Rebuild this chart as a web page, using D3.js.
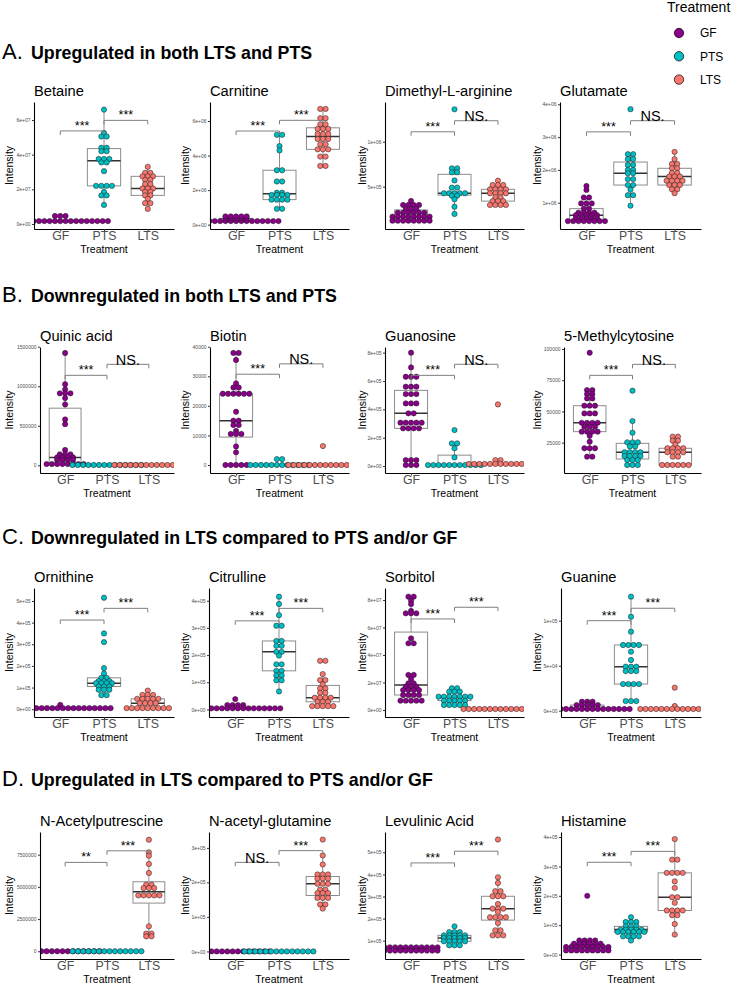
<!DOCTYPE html>
<html><head><meta charset="utf-8">
<script src="https://cdn.jsdelivr.net/npm/d3@7"></script>
<style>body{margin:0;background:#fff} svg{display:block;font-family:"Liberation Sans",Arial,sans-serif}</style>
</head><body><svg id="c" width="742" height="985"></svg>
<script>
// ---------------- DATA ----------------
const groups = ["GF", "PTS", "LTS"];
const groupColors = ["#8B008B", "#00BFC4", "#F8766D"];
const sectionLetters = ["A.", "B.", "C.", "D."];
const sectionTitles = ["Upregulated in both LTS and PTS", "Downregulated in both LTS and PTS",
  "Downregulated in LTS compared to PTS and/or GF", "Upregulated in LTS compared to PTS and/or GF"];
const metabolites = ["Betaine", "Carnitine", "Dimethyl-L-arginine", "Glutamate",
  "Quinic acid", "Biotin", "Guanosine", "5-Methylcytosine",
  "Ornithine", "Citrulline", "Sorbitol", "Guanine",
  "N-Acetylputrescine", "N-acetyl-glutamine", "Levulinic Acid", "Histamine"];
const yTickLabels = [
  ["0e+00", "2e+07", "4e+07", "6e+07"], ["0e+00", "2e+06", "4e+06", "6e+06"], ["5e+05", "1e+06"], ["1e+06", "2e+06", "3e+06", "4e+06"],
  ["0", "500000", "1000000", "1500000"], ["0", "10000", "20000", "30000", "40000"], ["0e+00", "2e+05", "4e+05", "6e+05", "8e+05"], ["25000", "50000", "75000", "100000"],
  ["0e+00", "1e+05", "2e+05", "3e+05", "4e+05", "5e+05"], ["0e+00", "1e+05", "2e+05", "3e+05", "4e+05"], ["0e+00", "2e+07", "4e+07", "6e+07", "8e+07"], ["0e+00", "5e+04", "1e+05"],
  ["0", "2500000", "5000000", "7500000"], ["0e+00", "1e+05", "2e+05", "3e+05"], ["1e+05", "2e+05", "3e+05", "4e+05", "5e+05"], ["0e+00", "1e+05", "2e+05", "3e+05", "4e+05"]];
const yDomains = [
  [-2.9e6, 7.04e7], [-2.5e5, 7.1e6], [3e4, 1.441e6], [2e5, 4.07e6],
  [-9.7e4, 1.496e6], [-2700, 39900], [-4.9e4, 8.4e5], [700, 101600],
  [-3.6e4, 5.6e5], [-2.8e4, 4.47e5], [-5.1e6, 8.87e7], [-7e3, 1.363e5],
  [-6e5, 9.26e6], [-2.2e4, 3.46e5], [1.7e4, 5.92e5], [-1.5e4, 4.17e5]];
// values as [value, number of samples]
const gfValues = [
  [[1.7e6, 19], [4.6e6, 3]],
  [[2.1e5, 17], [3.6e5, 5], [4.8e5, 5]],
  [[3.41e5, 1], [2.97e5, 4], [2.52e5, 3], [2.11e5, 6], [1.67e5, 8], [1.22e5, 8]],
  [[1.51e6, 1], [1.39e6, 1], [1.16e6, 2], [9.8e5, 3], [8.2e5, 2], [7.0e5, 4], [6.2e5, 5], [5.2e5, 5], [4.4e5, 8]],
  [[1.42e6, 1], [1.025e6, 1], [9.6e5, 1], [9.1e5, 3], [8.5e5, 1], [7.7e5, 1], [5.8e5, 1], [5.2e5, 1], [1.94e5, 1], [1.39e5, 3], [1.0e5, 4], [6.7e4, 4], [1.6e4, 8]],
  [[37900, 2], [35500, 1], [27600, 1], [26200, 2], [24100, 6], [18000, 1], [15000, 2], [13500, 2], [11500, 1], [10500, 3], [6300, 1], [4300, 1], [0, 5]],
  [[8.0e5, 1], [6.96e5, 1], [6.3e5, 3], [5.6e5, 3], [5.08e5, 3], [4.42e5, 3], [3.72e5, 2], [3.06e5, 5], [2.66e5, 4], [4.2e4, 3], [7e3, 3]],
  [[97000, 1], [67100, 2], [63900, 2], [60400, 2], [54600, 3], [48400, 3], [40900, 4], [37700, 3], [33800, 4], [30500, 1], [25800, 1], [20500, 3], [13800, 2]],
  [[2.0e4, 1], [5e3, 20]],
  [[3.8e4, 1], [1.6e4, 4], [4e3, 18]],
  [[8.24e7, 2], [7.95e7, 1], [7.7e7, 1], [7.2e7, 1], [7.03e7, 3], [5.21e7, 1], [4.85e7, 2], [2.55e7, 2], [2.25e7, 1], [1.94e7, 2], [1.7e7, 3], [1.45e7, 4], [1.09e7, 4], [6.8e6, 5]],
  [[1.0e4, 3], [6.3e3, 5], [1.9e3, 17]],
  [[0, 14]],
  [[0, 14]],
  [[7.0e4, 11], [5.5e4, 11]],
  [[2.0e5, 1], [4.8e4, 4], [3.7e4, 6], [2.6e4, 9], [1.4e4, 9]]];
const ptsValues = [
  [[6.6e7, 1], [5.25e7, 1], [5.05e7, 2], [4.4e7, 2], [4.2e7, 2], [3.75e7, 3], [3.55e7, 2], [3.05e7, 1], [2.2e7, 4], [1.85e7, 1], [1.65e7, 2], [1.1e7, 1]],
  [[5.2e6, 2], [4.55e6, 1], [4.3e6, 1], [3.15e6, 2], [2.5e6, 2], [1.85e6, 2], [1.72e6, 4], [1.45e6, 4], [9.2e5, 2]],
  [[1.36e6, 1], [7.04e5, 2], [6.6e5, 2], [5.7e5, 1], [4.9e5, 2], [4.27e5, 5], [4.0e5, 2], [3.6e5, 1], [2.78e5, 1], [1.97e5, 1]],
  [[3.85e6, 1], [2.48e6, 2], [2.33e6, 2], [2.15e6, 2], [2.0e6, 2], [1.9e6, 2], [1.72e6, 2], [1.54e6, 2], [1.4e6, 1], [1.23e6, 2], [9.1e5, 1]],
  [[4e3, 14]],
  [[2000, 2], [0, 12]],
  [[2.54e5, 1], [1.6e5, 2], [1.25e5, 1], [6.1e4, 1], [7e3, 11]],
  [[66600, 1], [42300, 1], [33000, 1], [25300, 3], [22000, 2], [17300, 4], [14300, 4], [11100, 3], [7100, 3]],
  [[5.15e5, 1], [3.5e5, 1], [3.1e5, 1], [1.9e5, 1], [1.65e5, 1], [1.45e5, 2], [1.3e5, 3], [1.2e5, 4], [1.05e5, 3], [9.0e4, 3], [6.5e4, 2]],
  [[4.15e5, 1], [3.88e5, 1], [3.47e5, 1], [3.08e5, 2], [2.52e5, 2], [2.34e5, 2], [2.12e5, 2], [1.98e5, 1], [1.66e5, 2], [1.42e5, 2], [1.25e5, 2], [1.07e5, 2], [6.6e4, 1]],
  [[1.58e7, 2], [1.33e7, 3], [9.7e6, 7], [6.8e6, 5], [3.6e6, 5]],
  [[1.267e5, 1], [1.044e5, 1], [8.78e4, 1], [7.3e4, 4], [6.56e4, 1], [5.63e4, 1], [4.89e4, 3], [4.4e4, 3], [2.96e4, 4], [1.07e4, 3]],
  [[0, 14]],
  [[0, 14]],
  [[1.65e5, 1], [1.39e5, 3], [1.24e5, 5], [1.12e5, 5], [9.7e4, 5], [7.9e4, 3]],
  [[1.27e5, 1], [1.11e5, 3], [9.6e4, 3], [8.5e4, 5], [7.7e4, 6], [6.2e4, 4], [4.8e4, 1]]];
const ltsValues = [
  [[3.3e7, 1], [2.95e7, 2], [2.75e7, 3], [2.55e7, 2], [2.3e7, 2], [2.05e7, 3], [1.85e7, 2], [1.65e7, 2], [1.45e7, 1], [1.2e7, 2], [8.7e6, 1]],
  [[6.7e6, 2], [6.16e6, 2], [5.81e6, 2], [5.54e6, 3], [5.25e6, 3], [4.96e6, 3], [4.65e6, 2], [4.36e6, 3], [3.94e6, 2], [3.4e6, 2]],
  [[5.67e5, 1], [5.19e5, 3], [4.71e5, 4], [4.27e5, 4], [3.82e5, 2], [3.4e5, 3], [2.97e5, 4]],
  [[2.55e6, 1], [2.33e6, 1], [2.18e6, 2], [2.05e6, 2], [1.91e6, 2], [1.8e6, 3], [1.67e6, 4], [1.54e6, 3], [1.41e6, 2], [1.29e6, 1]],
  [[4e3, 14]],
  [[6400, 1], [0, 14]],
  [[4.35e5, 1], [4.2e4, 2], [1.5e4, 12]],
  [[29800, 2], [26600, 2], [23500, 1], [20500, 4], [17300, 4], [13800, 2], [7100, 6]],
  [[8.6e4, 1], [6.6e4, 3], [4.8e4, 5], [2.8e4, 4], [5e3, 9]],
  [[1.79e5, 2], [1.3e5, 1], [1.08e5, 2], [9.2e4, 1], [7.7e4, 2], [6.1e4, 2], [4.3e4, 4], [2.8e4, 3], [1.2e4, 5]],
  [[7e5, 14]],
  [[2.56e4, 1], [5.2e3, 1], [1.9e3, 14]],
  [[8.66e6, 1], [7.68e6, 1], [7.42e6, 1], [6.78e6, 1], [6.08e6, 1], [5.17e6, 2], [4.91e6, 3], [4.34e6, 5], [1.94e6, 1], [1.37e6, 2], [1.16e6, 2]],
  [[3.24e5, 1], [2.78e5, 1], [2.52e5, 1], [2.23e5, 3], [2.11e5, 3], [1.96e5, 3], [1.79e5, 2], [1.69e5, 3], [1.55e5, 3], [1.36e5, 2], [1.24e5, 1]],
  [[5.58e5, 1], [3.87e5, 1], [3.61e5, 1], [3.24e5, 2], [3.01e5, 3], [2.66e5, 1], [2.45e5, 3], [2.3e5, 1], [2.06e5, 4], [1.8e5, 1], [1.47e5, 2], [1.24e5, 3]],
  [[3.93e5, 1], [3.23e5, 2], [2.78e5, 4], [2.49e5, 1], [2.27e5, 1], [1.95e5, 2], [1.76e5, 1], [1.5e5, 4], [1.34e5, 2], [1.04e5, 1], [6.8e4, 1]]];
const bracketHeights = [
  [5.37e7, 5.98e7], [5.42e6, 6.04e6], [1.11e6, 1.233e6], [3.16e6, 3.5e6],
  [1.138e6, 1.277e6], [30700, 34200], [6.4e5, 7.18e5], [78900, 87700],
  [4.12e5, 4.66e5], [3.26e5, 3.72e5], [6.62e7, 7.47e7], [1.0e5, 1.138e5],
  [6.9e6, 7.8e6], [2.58e5, 2.92e5], [4.52e5, 5.05e5], [3.14e5, 3.51e5]];
const bracketLabels = [
  ["***", "***"], ["***", "***"], ["***", "NS."], ["***", "NS."],
  ["***", "NS."], ["***", "NS."], ["***", "NS."], ["***", "NS."],
  ["***", "***"], ["***", "***"], ["***", "***"], ["***", "***"],
  ["**", "***"], ["NS.", "***"], ["***", "***"], ["***", "***"]];

// ---------------- LAYOUT ----------------
const headingY = [59, 302, 544, 786];
const rowTop = [102, 347, 588, 832], rowBottom = [229, 473, 717, 959];
const colRight = [174, 349, 524, 701];
const panelLeft = [34, 210, 385, 560, 40, 210, 385, 564, 34, 209, 385, 561, 40, 209, 385, 561];
const intensityX = [9, 185, 362, 537];
const dotR = 2.65;

const svg = d3.select("#c");

// section headings
sectionLetters.forEach((L, i) => {
  svg.append("text").attr("x", 2).attr("y", headingY[i]).attr("font-size", 22).attr("fill", "#000").text(L);
  svg.append("text").attr("x", 31).attr("y", headingY[i]).attr("font-size", 17.8).attr("font-weight", "bold").attr("fill", "#000").text(sectionTitles[i]);
});

// legend
svg.append("text").attr("x", 667).attr("y", 12).attr("font-size", 14).text("Treatment");
groups.forEach((g, i) => {
  const cy = 33 + i * 23.3;
  svg.append("circle").attr("cx", 679).attr("cy", cy).attr("r", 4.7).attr("fill", groupColors[i]).attr("stroke", "#000").attr("stroke-width", 0.7);
  svg.append("text").attr("x", 700).attr("y", cy + 4.2).attr("font-size", 12).text(g);
});

const defs = svg.append("defs");

metabolites.forEach((name, p) => {
  const row = Math.floor(p / 4), col = p % 4;
  const left = panelLeft[p], right = colRight[col], top = rowTop[row], bottom = rowBottom[row];
  const x = d3.scalePoint().domain(groups).range([left, right]).padding(0.6);
  const y = d3.scaleLinear().domain(yDomains[p]).range([bottom, top]);
  const g = svg.append("g");

  defs.append("clipPath").attr("id", "clip" + p).append("rect")
    .attr("x", left).attr("y", top).attr("width", right - left).attr("height", bottom - top);

  const series = [gfValues[p], ptsValues[p], ltsValues[p]];

  // boxplots
  const bw = x.step() * 0.76;
  series.forEach((s, gi) => {
    const vals = [];
    s.forEach(([v, n]) => { for (let k = 0; k < n; k++) vals.push(v); });
    vals.sort(d3.ascending);
    const q1 = d3.quantileSorted(vals, 0.25), q2 = d3.quantileSorted(vals, 0.5), q3 = d3.quantileSorted(vals, 0.75);
    const iqr = q3 - q1;
    const lo = d3.min(vals.filter(v => v >= q1 - 1.5 * iqr));
    const hi = d3.max(vals.filter(v => v <= q3 + 1.5 * iqr));
    const cx = x(groups[gi]);
    const bg = g.append("g").attr("stroke", "#8c8c8c").attr("fill", "none").attr("stroke-width", 1);
    bg.append("line").attr("x1", cx).attr("x2", cx).attr("y1", y(q3)).attr("y2", y(hi));
    bg.append("line").attr("x1", cx).attr("x2", cx).attr("y1", y(q1)).attr("y2", y(lo));
    bg.append("rect").attr("x", cx - bw / 2).attr("width", bw).attr("y", y(q3)).attr("height", Math.max(0, y(q1) - y(q3))).attr("fill", "#fff");
    bg.append("line").attr("x1", cx - bw / 2).attr("x2", cx + bw / 2).attr("y1", y(q2)).attr("y2", y(q2)).attr("stroke", "#333").attr("stroke-width", 1.5);
  });

  // dots
  const dg = g.append("g").attr("clip-path", `url(#clip${p})`);
  series.forEach((s, gi) => {
    const cx = x(groups[gi]);
    s.forEach(([v, n]) => {
      for (let k = 0; k < n; k++) {
        dg.append("circle").attr("cx", cx + (k - (n - 1) / 2) * dotR * 2).attr("cy", y(v)).attr("r", dotR)
          .attr("fill", groupColors[gi]).attr("stroke", "#1a1a1a").attr("stroke-width", 0.5);
      }
    });
  });

  // axes
  const yAxis = d3.axisLeft(y).tickValues(yTickLabels[p].map(Number)).tickFormat((d, i) => yTickLabels[p][i])
    .tickSize(2).tickSizeOuter(0).tickPadding(1.5);
  const ya = g.append("g").attr("transform", `translate(${left},0)`).call(yAxis);
  ya.select(".domain").attr("stroke", "#000").attr("stroke-width", 1.1);
  ya.selectAll(".tick line").attr("stroke", "#333");
  ya.selectAll(".tick text").attr("font-size", 5).attr("fill", "#4d4d4d").attr("font-family", null);

  const xAxis = d3.axisBottom(x).tickSize(2.5).tickSizeOuter(0).tickPadding(0.2);
  const xa = g.append("g").attr("transform", `translate(0,${bottom})`).call(xAxis);
  xa.select(".domain").attr("stroke", "#000").attr("stroke-width", 1.1);
  xa.selectAll(".tick line").attr("stroke", "#333");
  xa.selectAll(".tick text").attr("font-size", 12.3).attr("fill", "#4d4d4d").attr("font-family", null);

  // titles
  g.append("text").attr("x", left).attr("y", top - 6).attr("font-size", 14.7).text(name);
  g.append("text").attr("transform", `translate(${intensityX[col]},${(top + bottom) / 2}) rotate(-90)`)
    .attr("text-anchor", "middle").attr("dy", "0.35em").attr("font-size", 10.5).text("Intensity");
  g.append("text").attr("x", (left + right) / 2).attr("y", bottom + 23.5).attr("text-anchor", "middle")
    .attr("font-size", 10.5).text("Treatment");

  // significance brackets
  [0, 1].forEach(k => {
    const xa1 = x(groups[k]), xa2 = x(groups[k + 1]);
    const yb = y(bracketHeights[p][k]);
    g.append("path").attr("d", `M${xa1},${yb + 4}V${yb}H${xa2}V${yb + 4}`)
      .attr("fill", "none").attr("stroke", "#7f7f7f").attr("stroke-width", 1);
    const lab = bracketLabels[p][k];
    const isNS = lab.startsWith("N");
    g.append("text").attr("x", (xa1 + xa2) / 2).attr("y", isNS ? yb + 0.5 : yb - 1)
      .attr("text-anchor", "middle").attr("font-size", isNS ? 14.5 : 12.5).text(lab);
  });
});
</script></body></html>
